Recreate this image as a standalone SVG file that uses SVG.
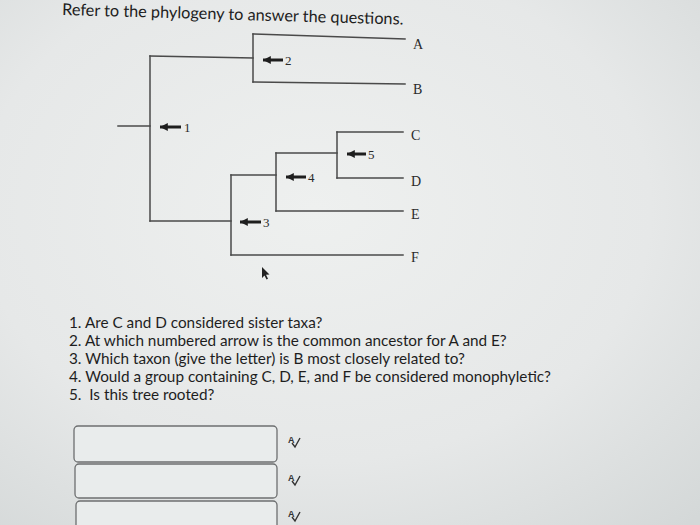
<svg xmlns="http://www.w3.org/2000/svg" width="700" height="525" viewBox="0 0 700 525">
<defs>
<radialGradient id="bg" cx="0.45" cy="0.4" r="0.8">
<stop offset="0" stop-color="#eef0ef"/>
<stop offset="0.6" stop-color="#e6e8e8"/>
<stop offset="1" stop-color="#d4d8d8"/>
</radialGradient>
<marker id="ah" viewBox="0 0 10 10" refX="0" refY="5" markerWidth="2.6" markerHeight="2.6" orient="auto" markerUnits="strokeWidth">
<path d="M0,5 L10,0 L10,10 Z" fill="#1e1e1e"/>
</marker>
<style>
.br{stroke:#4a4a4a;stroke-width:1.5;fill:none;stroke-linecap:square}
.ar{stroke:#1e1e1e;stroke-width:3;marker-start:url(#ah)}
.tx{font-family:"Liberation Serif",serif;font-size:14px;fill:#2a2a2a}
.nm{font-family:"Liberation Serif",serif;font-size:13px;fill:#2a2a2a}
.q{font-family:Lato,"Liberation Sans",sans-serif;font-size:15.3px;fill:#1e1e1e}
.box{fill:#e9ecec;stroke:#6d6f70;stroke-width:1.3}
.sp{font-family:"Liberation Sans",sans-serif;font-size:9px;font-weight:bold;fill:#333}
.ck{stroke:#333;stroke-width:1.4;fill:none}
</style>
</defs>
<rect width="700" height="525" fill="url(#bg)"/>

<text class="q" x="62" y="15" style="font-size:16.3px" transform="rotate(1.6 62 15)">Refer to the phylogeny to answer the questions.</text>

<g id="connectors">
<path class="br" d="M118,126 L150,126"/>
<path class="br" d="M150,56 L150,221"/>
<path class="br" d="M150,56 L253,58"/>
<path class="br" d="M253,34 L253,82"/>
<path class="br" d="M253,34 L405,39"/>
<path class="br" d="M253,82 L405,84"/>
<path class="br" d="M150,221 L231,221"/>
<path class="br" d="M231,175 L231,255"/>
<path class="br" d="M231,255 L403,255"/>
<path class="br" d="M231,175 L276,175"/>
<path class="br" d="M276,153 L276,211"/>
<path class="br" d="M276,211 L403,211"/>
<path class="br" d="M276,153 L337,153"/>
<path class="br" d="M337,132 L337,178"/>
<path class="br" d="M337,132 L403,132"/>
<path class="br" d="M337,178 L403,178"/>
</g>

<g id="taxon-A"><text class="tx" x="413" y="49">A</text></g>
<g id="taxon-B"><text class="tx" x="413" y="94">B</text></g>
<g id="taxon-C"><text class="tx" x="411" y="140">C</text></g>
<g id="taxon-D"><text class="tx" x="411" y="186">D</text></g>
<g id="taxon-E"><text class="tx" x="411" y="219">E</text></g>
<g id="taxon-F"><text class="tx" x="411" y="262">F</text></g>

<g id="arrow-1"><line class="ar" x1="160" y1="127" x2="181" y2="127"/><text class="nm" x="184" y="132">1</text></g>
<g id="arrow-2"><line class="ar" x1="263" y1="60" x2="283" y2="60"/><text class="nm" x="285" y="65">2</text></g>
<g id="arrow-3"><line class="ar" x1="240" y1="222" x2="261" y2="222"/><text class="nm" x="263" y="227">3</text></g>
<g id="arrow-4"><line class="ar" x1="286" y1="177" x2="306" y2="177"/><text class="nm" x="308" y="182">4</text></g>
<g id="arrow-5"><line class="ar" x1="347" y1="154" x2="366" y2="154"/><text class="nm" x="368" y="159">5</text></g>

<g id="cursor"><path d="M262,267 L262,278 L264.5,275.5 L266.5,279.5 L268,278.8 L266,274.8 L269.5,274.5 Z" fill="#222"/></g>

<g id="questions">
<text class="q" x="69" y="328">1. Are C and D considered sister taxa?</text>
<text class="q" x="69" y="346">2. At which numbered arrow is the common ancestor for A and E?</text>
<text class="q" x="69" y="364">3. Which taxon (give the letter) is B most closely related to?</text>
<text class="q" x="69" y="382">4. Would a group containing C, D, E, and F be considered monophyletic?</text>
<text class="q" x="69" y="400" xml:space="preserve">5.  Is this tree rooted?</text>
</g>

<g id="answer-1"><rect class="box" x="74" y="426" width="203" height="36" rx="4"/><text class="sp" x="288" y="443">A</text><path class="ck" d="M292,443 L295,447 L300,438"/></g>
<g id="answer-2"><rect class="box" x="75" y="464" width="202" height="34" rx="4"/><text class="sp" x="288" y="481">A</text><path class="ck" d="M292,481 L295,485 L300,476"/></g>
<g id="answer-3"><rect class="box" x="76" y="501" width="201" height="34" rx="4"/><text class="sp" x="288" y="517">A</text><path class="ck" d="M292,517 L295,521 L300,512"/></g>
</svg>
